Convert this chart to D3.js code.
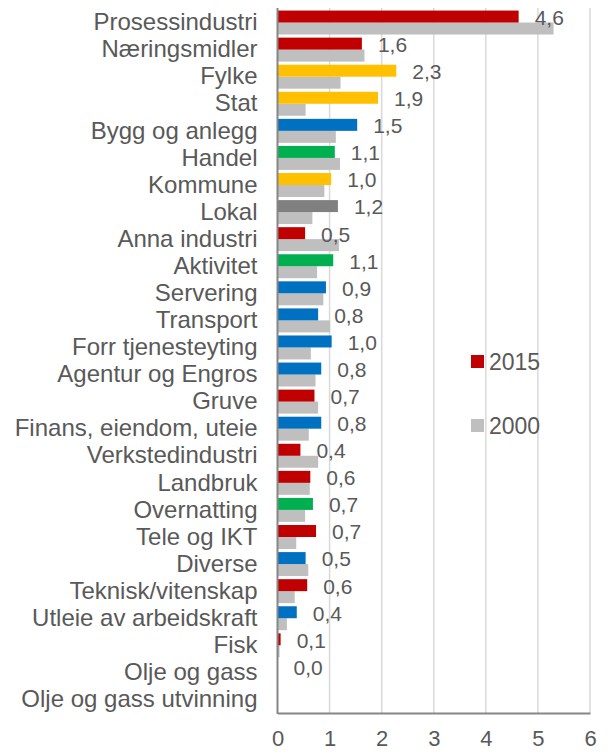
<!DOCTYPE html>
<html>
<head>
<meta charset="utf-8">
<script src="https://cdn.jsdelivr.net/npm/d3@7"></script>
<style>
  body { margin: 0; background: #fff; }
  text { font-family: "Liberation Sans", Arial, sans-serif; fill: #595959; }
</style>
</head>
<body>
<div id="chart"></div>
<script>
////////////////////////////////////////////////////////////////////////
// Data

let categories = ["Prosessindustri", "Næringsmidler", "Fylke", "Stat", "Bygg og anlegg",
  "Handel", "Kommune", "Lokal", "Anna industri", "Aktivitet", "Servering", "Transport",
  "Forr tjenesteyting", "Agentur og Engros", "Gruve", "Finans, eiendom, uteie",
  "Verkstedindustri", "Landbruk", "Overnatting", "Tele og IKT", "Diverse",
  "Teknisk/vitenskap", "Utleie av arbeidskraft", "Fisk", "Olje og gass",
  "Olje og gass utvinning"];

// sector group of each category (decides the 2015 bar colour)
let groups = ["industri", "industri", "offentlig", "offentlig", "tjeneste",
  "service", "offentlig", "lokal", "industri", "service", "tjeneste", "tjeneste",
  "tjeneste", "tjeneste", "industri", "tjeneste",
  "industri", "industri", "service", "industri", "tjeneste",
  "industri", "tjeneste", "industri", "industri",
  "industri"];

let values2015 = [4.63, 1.62, 2.28, 1.93, 1.53, 1.10, 1.03, 1.16, 0.53, 1.07, 0.93, 0.78,
  1.04, 0.84, 0.71, 0.84, 0.44, 0.63, 0.68, 0.74, 0.54, 0.57, 0.37, 0.06, 0.0, null];

let values2000 = [5.30, 1.67, 1.21, 0.54, 1.12, 1.20, 0.90, 0.67, 1.18, 0.76, 0.88, 1.01,
  0.64, 0.73, 0.78, 0.60, 0.78, 0.62, 0.53, 0.36, 0.59, 0.33, 0.18, 0.04, 0.0, null];

let years = ["2015", "2000"];
let xTicks = [0, 1, 2, 3, 4, 5, 6];

////////////////////////////////////////////////////////////////////////
// Scales

let width = 607, height = 754;

let svg = d3.select("#chart").append("svg")
  .attr("width", width)
  .attr("height", height);

let xScale = d3.scaleLinear().domain([0, 6]).range([277.5, 590]);
let yScale = d3.scaleBand().domain(categories).range([9, 713]);
let ySub = d3.scaleBand().domain(years).range([0, yScale.bandwidth()]).paddingOuter(0.13);

let groupColor = d3.scaleOrdinal()
  .domain(["industri", "offentlig", "tjeneste", "service", "lokal"])
  .range(["#C00000", "#FFC000", "#0070C0", "#00B050", "#808080"]);

let fmt = v => d3.format(".1f")(v).replace(".", ",");

let rows = categories.map((c, i) => ({
  name: c, group: groups[i], v2015: values2015[i], v2000: values2000[i]
}));

////////////////////////////////////////////////////////////////////////
// Grid and axes

svg.append("g")
  .selectAll("line")
  .data(xTicks.slice(1))
  .enter()
  .append("line")
  .attr("x1", d => xScale(d)).attr("x2", d => xScale(d))
  .attr("y1", 8).attr("y2", 713)
  .attr("stroke", "#D9D9D9")
  .attr("stroke-width", 1.5);

let xAxis = svg.append("g")
  .attr("transform", "translate(0,713)")
  .call(d3.axisBottom(xScale).tickValues(xTicks).tickSize(0).tickPadding(17).tickFormat(d3.format("d")));
xAxis.select(".domain").attr("stroke", "#868686").attr("stroke-width", 2);
xAxis.selectAll("text")
  .style("font-size", "22px")
  .style("font-family", "Liberation Sans, Arial, sans-serif")
  .attr("fill", "#595959");

let yAxis = svg.append("g")
  .attr("transform", "translate(" + xScale(0) + ",0)")
  .call(d3.axisLeft(yScale).tickSize(0).tickPadding(20));
yAxis.select(".domain").remove();
yAxis.selectAll("text")
  .style("font-size", "24px")
  .style("font-family", "Liberation Sans, Arial, sans-serif")
  .attr("fill", "#595959");

////////////////////////////////////////////////////////////////////////
// Bars

let barGroups = svg.append("g")
  .selectAll("g")
  .data(rows)
  .enter()
  .append("g")
  .attr("transform", d => "translate(0," + yScale(d.name) + ")");

barGroups.filter(d => d.v2000 != null)
  .append("rect")
  .attr("x", xScale(0))
  .attr("y", ySub("2000"))
  .attr("width", d => xScale(d.v2000) - xScale(0))
  .attr("height", ySub.bandwidth())
  .attr("fill", "#BFBFBF");

barGroups.filter(d => d.v2015 != null)
  .append("rect")
  .attr("x", xScale(0))
  .attr("y", ySub("2015"))
  .attr("width", d => xScale(d.v2015) - xScale(0))
  .attr("height", ySub.bandwidth())
  .attr("fill", d => groupColor(d.group));

barGroups.filter(d => d.v2015 != null)
  .append("text")
  .attr("x", d => xScale(d.v2015) + 16)
  .attr("y", ySub("2015") + ySub.bandwidth() / 2 + 1)
  .attr("dy", "0.35em")
  .style("font-size", "21px")
  .text(d => fmt(d.v2015));

// vertical axis line on top of bars
svg.append("line")
  .attr("x1", xScale(0)).attr("x2", xScale(0))
  .attr("y1", 8).attr("y2", 714)
  .attr("stroke", "#868686")
  .attr("stroke-width", 2);

////////////////////////////////////////////////////////////////////////
// Legend

let legend = svg.append("g")
  .selectAll("g")
  .data(years)
  .enter()
  .append("g")
  .attr("transform", (d, i) => "translate(471," + (355 + i * 64) + ")");

legend.append("rect")
  .attr("width", 13).attr("height", 13)
  .attr("fill", (d, i) => i === 0 ? "#C00000" : "#BFBFBF");

legend.append("text")
  .attr("x", 18).attr("y", 6.5).attr("dy", "0.35em")
  .style("font-size", "23px")
  .text(d => d);
</script>
</body>
</html>
